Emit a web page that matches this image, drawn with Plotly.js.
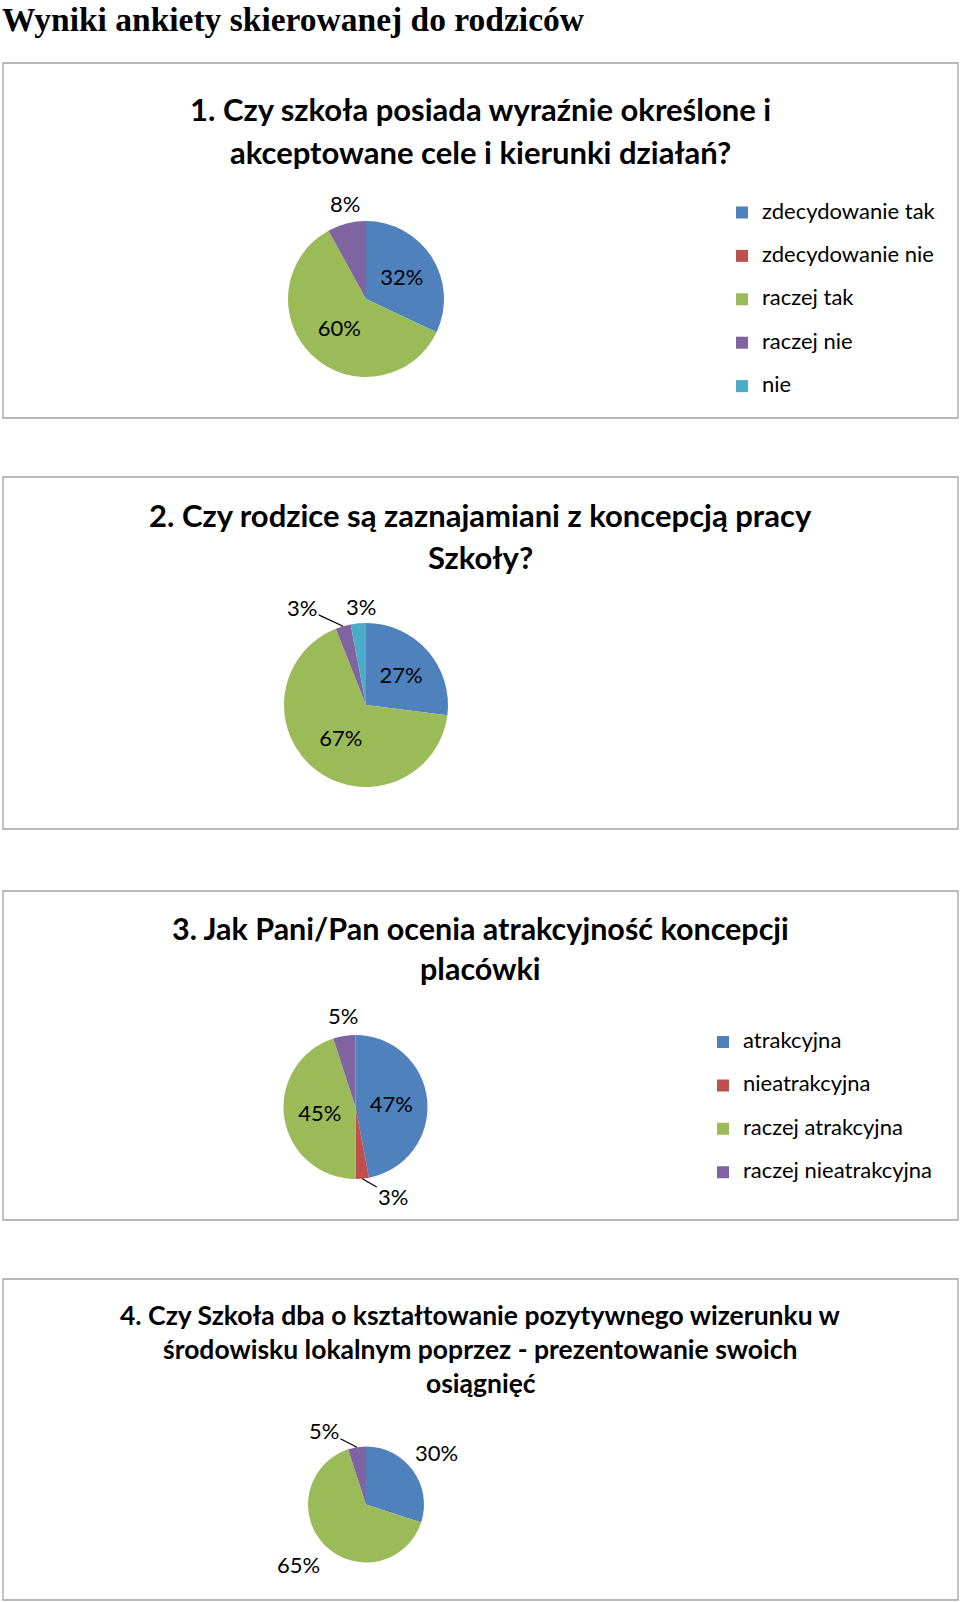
<!DOCTYPE html>
<html><head><meta charset="utf-8">
<script src="https://cdn.plot.ly/plotly-3.0.1.min.js"></script>
<style>html,body{margin:0;padding:0;background:#fff}</style>
</head><body><div id="chart" style="width:960px;height:1602px"></div>
<script>
// ---------------- DATA ----------------
const pageTitle = "Wyniki ankiety skierowanej do rodziców";

const q1Title = ["1. Czy szkoła posiada wyraźnie określone i", "akceptowane cele i kierunki działań?"];
const q1Labels = ["zdecydowanie tak", "zdecydowanie nie", "raczej tak", "raczej nie", "nie"];
const q1Values = [32, 0, 60, 8, 0];

const q2Title = ["2. Czy rodzice są zaznajamiani z koncepcją pracy", "Szkoły?"];
const q2Labels = ["zdecydowanie tak", "zdecydowanie nie", "raczej tak", "raczej nie", "nie"];
const q2Values = [27, 0, 67, 3, 3];

const q3Title = ["3. Jak Pani/Pan ocenia atrakcyjność koncepcji", "placówki"];
const q3Labels = ["atrakcyjna", "nieatrakcyjna", "raczej atrakcyjna", "raczej nieatrakcyjna"];
const q3Values = [47, 3, 45, 5];

const q4Title = ["4. Czy Szkoła dba o kształtowanie pozytywnego wizerunku w", "środowisku lokalnym poprzez - prezentowanie swoich", "osiągnięć"];
const q4Labels = ["zdecydowanie tak", "zdecydowanie nie", "raczej tak", "raczej nie"];
const q4Values = [30, 0, 65, 5];

const sliceColors = ["#4F81BD", "#C0504D", "#9BBB59", "#8064A2", "#4BACC6"];

// ---------------- LAYOUT CONFIG (pixels) ----------------
const W = 960, H = 1602;
const px = v => v / W;
const py = v => 1 - v / H;

// outside label offsets: slice index -> [dx, dy (down +), leader line?]
const panels = [
  {title: q1Title, labels: q1Labels, values: q1Values, box: [3, 63, 958, 418],
   cx: 366, cy: 299, r: 78, titleBase: [121, 164], titleSize: 31,
   outside: {3: [-2, -20, false]}, legendTextX: 762, legendFirst: 212.5},
  {title: q2Title, labels: q2Labels, values: q2Values, box: [3, 477, 958, 829],
   cx: 366, cy: 705, r: 82, titleBase: [527, 569], titleSize: 31,
   outside: {3: [-41, -19, true], 4: [3, -16.5, false]}, legendTextX: 762, legendFirst: 618},
  {title: q3Title, labels: q3Labels, values: q3Values, box: [3, 891, 958, 1220],
   cx: 355.5, cy: 1107, r: 72, titleBase: [940, 980], titleSize: 30.5,
   outside: {1: [31, 18, true], 3: [-1, -20, false]}, legendTextX: 743, legendFirst: 1042},
  {title: q4Title, labels: q4Labels, values: q4Values, box: [3, 1279, 958, 1600],
   cx: 366, cy: 1504.5, r: 58, titleBase: [1325, 1359, 1393], titleSize: 26.5,
   outside: {0: [24, -17.5, false], 2: [-26, 18.5, false], 3: [-33, -17, true]}, legendTextX: 762, legendFirst: 1438}
];

const FONT = 'Lato, "Open Sans", sans-serif';
const legendF = 15.54;           // gives 43.4px per legend row with two-line entries
const legendTextSize = 22;
const itemH = 2 * 1.3 * legendF + 3;
const markerShift = 0.5 * (1.3 * legendF - itemH + 3);

const data = [];
const annotations = [];
const shapes = [];
const layout = {
  width: W, height: H,
  margin: {l: 0, r: 0, t: 0, b: 0},
  paper_bgcolor: '#fff',
  showlegend: true,
  font: {family: FONT, color: '#000'}
};

annotations.push({
  text: pageTitle, xref: 'paper', yref: 'paper', x: px(1), y: 1,
  xanchor: 'left', yanchor: 'top', showarrow: false, borderpad: 0,
  font: {family: '"Liberation Serif", "Times New Roman", serif', size: 33.5, weight: 'bold', color: '#000'}
});

panels.forEach((p, i) => {
  const legName = i === 0 ? 'legend' : 'legend' + (i + 1);
  const total = p.values.reduce((a, b) => a + b, 0);
  data.push({
    type: 'pie',
    labels: p.labels.map(l => '<span style="font-size:' + legendTextSize + 'px">' + l + '</span><br>\u00a0'),
    values: p.values,
    sort: false,
    direction: 'clockwise',
    rotation: 0,
    marker: {colors: sliceColors.slice(0, p.values.length), line: {width: 0}},
    texttemplate: p.values.map((v, k) => (v > 0 && !(k in p.outside)) ? '%{percent:.0%}' : ''),
    textposition: 'inside',
    insidetextorientation: 'horizontal',
    textfont: {family: FONT, size: 22, color: '#000'},
    insidetextfont: {family: FONT, size: 22, color: '#000'},
    hoverinfo: 'label+percent',
    domain: {x: [px(p.cx - p.r), px(p.cx + p.r)], y: [py(p.cy + p.r), py(p.cy - p.r)]},
    legend: legName
  });

  // outside labels anchored at the slice's outer edge (mid-angle, computed from the values)
  let cum = 0;
  p.values.forEach((v, k) => {
    const mid = (cum + v / 2) / total * 2 * Math.PI;
    cum += v;
    if (!(k in p.outside) || v <= 0) return;
    const [dx, dy, leader] = p.outside[k];
    const ex = p.cx + p.r * Math.sin(mid);
    const ey = p.cy - p.r * Math.cos(mid);
    const txt = Math.round(100 * v / total) + '%';
    const ann = {
      text: txt, xref: 'paper', yref: 'paper', x: px(ex), y: py(ey),
      font: {family: FONT, size: 22, color: '#000'}
    };
    if (leader) {
      Object.assign(ann, {showarrow: true, ax: dx, ay: dy, arrowhead: 0, arrowwidth: 1.2,
        arrowcolor: '#000', standoff: 0, startstandoff: 0});
    } else {
      Object.assign(ann, {showarrow: false, xanchor: 'center', yanchor: 'middle', xshift: dx, yshift: -dy});
    }
    annotations.push(ann);
  });

  const itemCenter = p.legendFirst - markerShift;
  const top = itemCenter - 5 - itemH / 2;
  layout[legName] = {
    x: px(p.legendTextX - 40), xanchor: 'left', xref: 'paper',
    y: py(top), yanchor: 'top', yref: 'paper',
    orientation: 'v', valign: 'top',
    bgcolor: 'rgba(0,0,0,0)', borderwidth: 0,
    font: {family: FONT, size: legendF, color: '#000'},
    traceorder: 'normal'
  };
  shapes.push({
    type: 'rect', xref: 'paper', yref: 'paper',
    x0: px(p.box[0]), x1: px(p.box[2]), y0: py(p.box[1]), y1: py(p.box[3]),
    line: {color: '#a3a3a3', width: 1.3}, fillcolor: 'rgba(0,0,0,0)', layer: 'below'
  });
  const tx = (p.box[0] + p.box[2]) / 2;
  p.title.forEach((line, k) => {
    annotations.push({
      text: line, xref: 'paper', yref: 'paper',
      x: px(tx), y: py(p.titleBase[k] - 0.387 * p.titleSize),
      xanchor: 'center', yanchor: 'middle', showarrow: false,
      font: {family: FONT, size: p.titleSize, weight: 'bold', color: '#000'}
    });
  });
});

layout.annotations = annotations;
layout.shapes = shapes;

Plotly.newPlot('chart', data, layout, {staticPlot: true, displayModeBar: false});
</script>
</body></html>
